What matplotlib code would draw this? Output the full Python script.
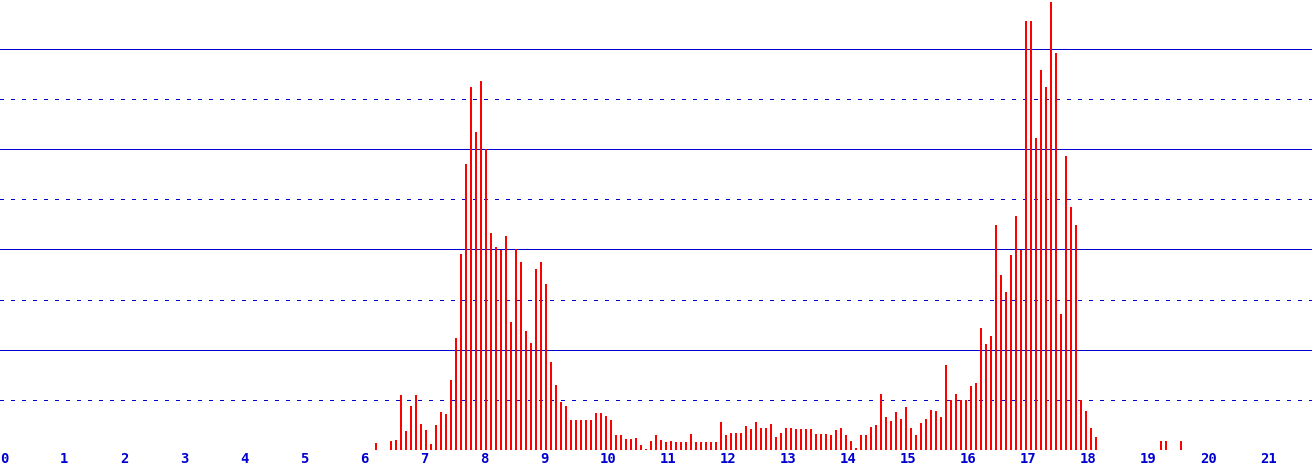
import matplotlib
matplotlib.use("Agg")
import matplotlib.pyplot as plt
import numpy as np

# 5-minute bins starting at 06:15 (hours), heights in chart units
start_hour = 6.25
bin_hours = 5 / 60
counts = [7, 0, 0, 9, 10, 55, 19, 44, 55, 26, 20, 6, 25, 38, 36, 70, 112, 195, 285, 362,
          317, 368, 300, 216, 202, 199, 213, 128, 200, 188, 119, 107, 181, 188, 166, 88, 65, 48, 44, 30,
          30, 30, 30, 30, 37, 37, 34, 30, 15, 15, 11, 11, 12, 5, 1, 9, 15, 10, 8, 9,
          8, 8, 8, 16, 8, 8, 8, 8, 8, 28, 15, 17, 17, 17, 24, 21, 28, 22, 22, 26,
          13, 17, 22, 22, 21, 21, 21, 21, 16, 16, 16, 15, 20, 22, 15, 9, 2, 15, 15, 23,
          25, 56, 33, 29, 38, 31, 43, 22, 15, 27, 31, 40, 39, 33, 85, 50, 56, 50, 50, 64,
          67, 122, 106, 114, 224, 175, 158, 194, 233, 199, 428, 428, 311, 379, 362, 447, 396, 136, 293, 242,
          224, 50, 39, 22, 13]
late_hours = [19 + 20 / 60, 19 + 25 / 60, 19 + 40 / 60]
late_counts = [9, 9, 9]
tick_labels = [str(h) for h in range(22)]

hours = start_hour + bin_hours * np.arange(len(counts))
all_hours = np.concatenate([hours, late_hours])
all_counts = np.concatenate([counts, late_counts])

W, H = 1312, 469
fig = plt.figure(figsize=(W / 100, H / 100), dpi=100)
fig.patch.set_facecolor("white")
ax = fig.add_axes([0, 19.5 / H, 1, 449.5 / H])
ax.set_xlim(0, W / 60)
ax.set_ylim(0, 449.5)
ax.set_facecolor("white")
for s in ax.spines.values():
    s.set_visible(False)

blue = "#0000D0"
px = 0.72
for y in [100, 200, 300, 400]:
    ax.axhline(y, color=blue, lw=px, zorder=1, antialiased=False)
for y in [50, 150, 250, 350]:
    ax.axhline(y, color=blue, lw=px, ls=(0, (3, 7)), zorder=1, antialiased=False)

mask = all_counts > 0
ax.bar(all_hours[mask], all_counts[mask], width=2 / 60, align="edge",
       color="#FF0000", linewidth=0, zorder=2, antialiased=False)
ax.axhline(0, color=blue, lw=px, zorder=3, antialiased=False)

ax.set_yticks([])
ax.set_xticks(range(22))
ax.set_xticklabels(tick_labels, ha="left", family="DejaVu Sans Mono",
                   fontweight="bold", fontsize=10, color=blue)
ax.tick_params(axis="x", length=0, pad=1.5)

fig.savefig("out.png", dpi=100, facecolor="white")
